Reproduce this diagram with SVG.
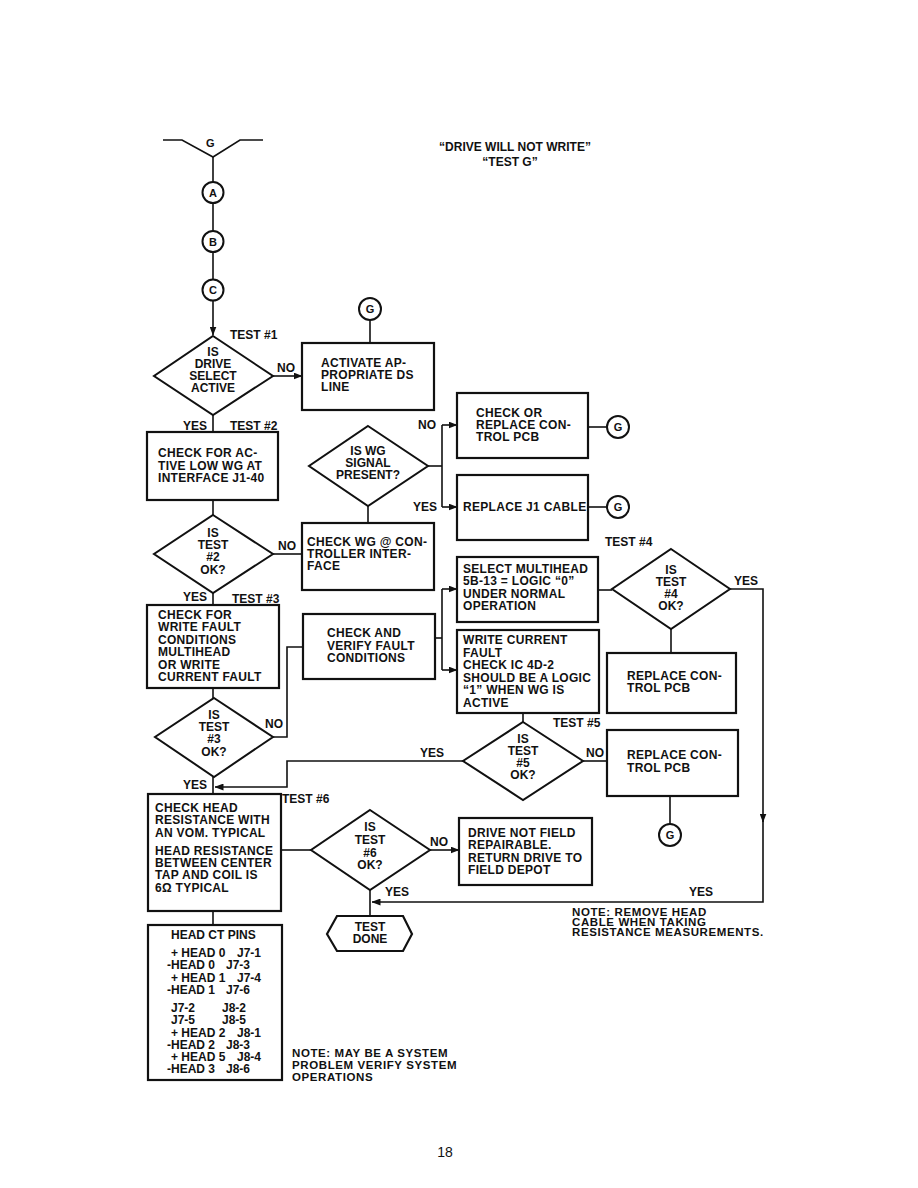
<svg xmlns="http://www.w3.org/2000/svg" width="918" height="1188" viewBox="0 0 918 1188">
<defs>
<marker id="ah" markerWidth="9" markerHeight="7" refX="8.5" refY="3.5" orient="auto" markerUnits="userSpaceOnUse">
<path d="M0,0 L9,3.5 L0,7 Z" fill="#111"/>
</marker>
<style>
.t{font-family:"Liberation Sans",Arial,Helvetica,sans-serif;font-weight:bold;font-size:12px;fill:#111}
.c{text-anchor:middle}
.b{letter-spacing:0.3px}
.n{font-size:11.5px;letter-spacing:0.6px}
.bx{fill:#fff;stroke:#111;stroke-width:2.2}
.dm{fill:#fff;stroke:#111;stroke-width:2}
.ci{fill:#fff;stroke:#111;stroke-width:2}
.ln{fill:none;stroke:#111;stroke-width:1.6}
.ar{fill:none;stroke:#111;stroke-width:1.6;marker-end:url(#ah)}
</style>
</defs>
<rect width="918" height="1188" fill="#fff"/>

<g id="title">
<text class="t c" x="515" y="151">“DRIVE WILL NOT WRITE”</text>
<text class="t c" x="510" y="166">“TEST G”</text>
</g>

<g id="connectors">
<polyline class="ln" points="163,140 182,140 213,157 240,140 263,140"/>
<line class="ln" x1="213" y1="157" x2="213" y2="182"/>
<line class="ln" x1="213" y1="203" x2="213" y2="231"/>
<line class="ln" x1="213" y1="252" x2="213" y2="279"/>
<line class="ar" x1="213" y1="300" x2="213" y2="335"/>
<line class="ar" x1="273" y1="376" x2="302" y2="376"/>
<line class="ln" x1="370" y1="320" x2="370" y2="343"/>
<line class="ln" x1="213" y1="415" x2="213" y2="432"/>
<line class="ln" x1="213" y1="500" x2="213" y2="515"/>
<line class="ln" x1="273" y1="554" x2="302" y2="554"/>
<line class="ln" x1="368" y1="506" x2="368" y2="523"/>
<polyline class="ln" points="428,466 442,466"/>
<line class="ln" x1="442" y1="425" x2="442" y2="507"/>
<line class="ar" x1="442" y1="425" x2="457" y2="425"/>
<line class="ar" x1="442" y1="507" x2="457" y2="507"/>
<line class="ln" x1="588" y1="427" x2="607" y2="427"/>
<line class="ln" x1="588" y1="507" x2="607" y2="507"/>
<line class="ln" x1="213" y1="593" x2="213" y2="605"/>
<line class="ln" x1="213" y1="688" x2="213" y2="698"/>
<polyline class="ln" points="273,737 287,737 287,647 303,647"/>
<line class="ln" x1="435" y1="638" x2="442" y2="638"/>
<line class="ln" x1="442" y1="589" x2="442" y2="670"/>
<line class="ar" x1="442" y1="589" x2="457" y2="589"/>
<line class="ar" x1="442" y1="670" x2="457" y2="670"/>
<line class="ln" x1="598" y1="590" x2="612" y2="590"/>
<polyline class="ar" points="730,589 763,589 763,822"/>
<polyline class="ar" points="763,815 763,902 372,902"/>
<line class="ln" x1="671" y1="629" x2="671" y2="653"/>
<line class="ln" x1="523" y1="713" x2="523" y2="722"/>
<line class="ln" x1="583" y1="761" x2="607" y2="761"/>
<line class="ln" x1="670" y1="796" x2="670" y2="824"/>
<polyline class="ar" points="463,761 287,761 287,787 215,787"/>
<line class="ln" x1="213" y1="777" x2="213" y2="794"/>
<line class="ln" x1="281" y1="850" x2="311" y2="850"/>
<line class="ar" x1="430" y1="850" x2="459" y2="850"/>
<line class="ln" x1="370" y1="890" x2="370" y2="916"/>
<line class="ln" x1="213" y1="911" x2="213" y2="925"/>
</g>

<g id="labels">
<text class="t" x="206" y="147" style="font-size:11px">G</text>
<text class="t" x="230" y="339">TEST #1</text>
<text class="t" x="277" y="372">NO</text>
<text class="t" x="183" y="430">YES</text>
<text class="t" x="230" y="430">TEST #2</text>
<text class="t" x="418" y="429">NO</text>
<text class="t" x="413" y="511">YES</text>
<text class="t" x="278" y="550">NO</text>
<text class="t" x="183" y="601">YES</text>
<text class="t" x="232" y="603">TEST #3</text>
<text class="t" x="605" y="546">TEST #4</text>
<text class="t" x="734" y="585">YES</text>
<text class="t" x="265" y="728">NO</text>
<text class="t" x="183" y="789">YES</text>
<text class="t" x="420" y="757">YES</text>
<text class="t" x="553" y="727">TEST #5</text>
<text class="t" x="586" y="757">NO</text>
<text class="t" x="282" y="803">TEST #6</text>
<text class="t" x="430" y="846">NO</text>
<text class="t" x="385" y="896">YES</text>
<text class="t" x="689" y="896">YES</text>
</g>

<g id="circleA"><circle class="ci" cx="213" cy="192.5" r="10.5"/><text class="t c" x="213" y="196.5" style="font-size:11px">A</text></g>
<g id="circleB"><circle class="ci" cx="213" cy="241.5" r="10.5"/><text class="t c" x="213" y="245.5" style="font-size:11px">B</text></g>
<g id="circleC"><circle class="ci" cx="213" cy="290" r="10.5"/><text class="t c" x="213" y="294" style="font-size:11px">C</text></g>
<g id="circleG1"><circle class="ci" cx="370" cy="309" r="11"/><text class="t c" x="370" y="313" style="font-size:11px">G</text></g>
<g id="circleG2"><circle class="ci" cx="618" cy="427" r="11"/><text class="t c" x="618" y="431" style="font-size:11px">G</text></g>
<g id="circleG3"><circle class="ci" cx="618" cy="507" r="11"/><text class="t c" x="618" y="511" style="font-size:11px">G</text></g>
<g id="circleG4"><circle class="ci" cx="670" cy="835" r="11"/><text class="t c" x="670" y="839" style="font-size:11px">G</text></g>

<g id="test1">
<polygon class="dm" points="213,336 273,376 213,415 154,376"/>
<text class="t c" x="213" y="356">IS</text>
<text class="t c" x="213" y="368">DRIVE</text>
<text class="t c" x="213" y="380">SELECT</text>
<text class="t c" x="213" y="392">ACTIVE</text>
</g>

<g id="activateDS">
<rect class="bx" x="302" y="343" width="132" height="67"/>
<text class="t b" x="321" y="367">ACTIVATE AP-</text>
<text class="t b" x="321" y="379">PROPRIATE DS</text>
<text class="t b" x="321" y="391">LINE</text>
</g>

<g id="checkActiveLowWG">
<rect class="bx" x="147" y="432" width="131" height="68"/>
<text class="t b" x="158" y="457">CHECK FOR AC-</text>
<text class="t b" x="158" y="470">TIVE LOW WG AT</text>
<text class="t b" x="158" y="482">INTERFACE J1-40</text>
</g>

<g id="wgPresent">
<polygon class="dm" points="368,426 428,466 368,506 309,466"/>
<text class="t c" x="368" y="455">IS WG</text>
<text class="t c" x="368" y="467">SIGNAL</text>
<text class="t c" x="368" y="479">PRESENT?</text>
</g>

<g id="checkReplacePCB">
<rect class="bx" x="457" y="393" width="131" height="65"/>
<text class="t b" x="476" y="417">CHECK OR</text>
<text class="t b" x="476" y="429">REPLACE CON-</text>
<text class="t b" x="476" y="441">TROL PCB</text>
</g>

<g id="replaceJ1">
<rect class="bx" x="457" y="475" width="131" height="65"/>
<text class="t b" x="463" y="511">REPLACE J1 CABLE</text>
</g>

<g id="test2">
<polygon class="dm" points="213,515 273,554 213,593 154,554"/>
<text class="t c" x="213" y="537">IS</text>
<text class="t c" x="213" y="549">TEST</text>
<text class="t c" x="213" y="561">#2</text>
<text class="t c" x="213" y="574">OK?</text>
</g>

<g id="checkWGController">
<rect class="bx" x="302" y="523" width="132" height="67"/>
<text class="t b" x="307" y="546">CHECK WG @ CON-</text>
<text class="t b" x="307" y="558">TROLLER INTER-</text>
<text class="t b" x="307" y="570">FACE</text>
</g>

<g id="checkWriteFault">
<rect class="bx" x="147" y="605" width="132" height="83"/>
<text class="t b" x="158" y="619">CHECK FOR</text>
<text class="t b" x="158" y="631">WRITE FAULT</text>
<text class="t b" x="158" y="644">CONDITIONS</text>
<text class="t b" x="158" y="656">MULTIHEAD</text>
<text class="t b" x="158" y="669">OR WRITE</text>
<text class="t b" x="158" y="681">CURRENT FAULT</text>
</g>

<g id="checkVerify">
<rect class="bx" x="303" y="614" width="132" height="65"/>
<text class="t b" x="327" y="637">CHECK AND</text>
<text class="t b" x="327" y="650">VERIFY FAULT</text>
<text class="t b" x="327" y="662">CONDITIONS</text>
</g>

<g id="selectMultihead">
<rect class="bx" x="457" y="557" width="141" height="65"/>
<text class="t b" x="463" y="573">SELECT MULTIHEAD</text>
<text class="t b" x="463" y="585">5B-13 = LOGIC “0”</text>
<text class="t b" x="463" y="598">UNDER NORMAL</text>
<text class="t b" x="463" y="610">OPERATION</text>
</g>

<g id="test4">
<polygon class="dm" points="671,549 730,589 671,629 612,589"/>
<text class="t c" x="671" y="574">IS</text>
<text class="t c" x="671" y="586">TEST</text>
<text class="t c" x="671" y="598">#4</text>
<text class="t c" x="671" y="610">OK?</text>
</g>

<g id="writeCurrentFault">
<rect class="bx" x="457" y="630" width="142" height="83"/>
<text class="t b" x="463" y="644">WRITE CURRENT</text>
<text class="t b" x="463" y="657">FAULT</text>
<text class="t b" x="463" y="669">CHECK IC 4D-2</text>
<text class="t b" x="463" y="682">SHOULD BE A LOGIC</text>
<text class="t b" x="463" y="694">“1” WHEN WG IS</text>
<text class="t b" x="463" y="707">ACTIVE</text>
</g>

<g id="replacePCB1">
<rect class="bx" x="607" y="653" width="129" height="60"/>
<text class="t b" x="627" y="680">REPLACE CON-</text>
<text class="t b" x="627" y="692">TROL PCB</text>
</g>

<g id="test3">
<polygon class="dm" points="214,698 273,737 214,777 155,737"/>
<text class="t c" x="214" y="719">IS</text>
<text class="t c" x="214" y="731">TEST</text>
<text class="t c" x="214" y="743">#3</text>
<text class="t c" x="214" y="756">OK?</text>
</g>

<g id="test5">
<polygon class="dm" points="523,722 583,761 523,800 463,761"/>
<text class="t c" x="523" y="743">IS</text>
<text class="t c" x="523" y="755">TEST</text>
<text class="t c" x="523" y="767">#5</text>
<text class="t c" x="523" y="779">OK?</text>
</g>

<g id="replacePCB2">
<rect class="bx" x="607" y="730" width="131" height="66"/>
<text class="t b" x="627" y="759">REPLACE CON-</text>
<text class="t b" x="627" y="772">TROL PCB</text>
</g>

<g id="checkHeadResistance">
<rect class="bx" x="148" y="794" width="133" height="117"/>
<text class="t b" x="155" y="812">CHECK HEAD</text>
<text class="t b" x="155" y="824">RESISTANCE WITH</text>
<text class="t b" x="155" y="837">AN VOM. TYPICAL</text>
<text class="t b" x="155" y="855">HEAD RESISTANCE</text>
<text class="t b" x="155" y="867">BETWEEN CENTER</text>
<text class="t b" x="155" y="879">TAP AND COIL IS</text>
<text class="t b" x="155" y="892">6Ω TYPICAL</text>
</g>

<g id="test6">
<polygon class="dm" points="370,810 430,850 370,890 311,850"/>
<text class="t c" x="370" y="831">IS</text>
<text class="t c" x="370" y="844">TEST</text>
<text class="t c" x="370" y="857">#6</text>
<text class="t c" x="370" y="869">OK?</text>
</g>

<g id="notRepairable">
<rect class="bx" x="459" y="818" width="133" height="67"/>
<text class="t b" x="468" y="837">DRIVE NOT FIELD</text>
<text class="t b" x="468" y="849">REPAIRABLE.</text>
<text class="t b" x="468" y="862">RETURN DRIVE TO</text>
<text class="t b" x="468" y="874">FIELD DEPOT</text>
</g>

<g id="testDone">
<polygon class="bx" points="327,934 337,916 403,916 412,934 403,951 337,951"/>
<text class="t c" x="370" y="931">TEST</text>
<text class="t c" x="370" y="943">DONE</text>
</g>

<g id="headCTPins">
<rect class="bx" x="148" y="925" width="134" height="155"/>
<text class="t" x="171" y="939">HEAD CT PINS</text>
<text class="t" x="171" y="957">+ HEAD 0</text><text class="t" x="237" y="957">J7-1</text>
<text class="t" x="167" y="969">-HEAD 0</text><text class="t" x="226" y="969">J7-3</text>
<text class="t" x="171" y="982">+ HEAD 1</text><text class="t" x="237" y="982">J7-4</text>
<text class="t" x="167" y="994">-HEAD 1</text><text class="t" x="226" y="994">J7-6</text>
<text class="t" x="171" y="1012">J7-2</text><text class="t" x="222" y="1012">J8-2</text>
<text class="t" x="171" y="1024">J7-5</text><text class="t" x="222" y="1024">J8-5</text>
<text class="t" x="171" y="1037">+ HEAD 2</text><text class="t" x="237" y="1037">J8-1</text>
<text class="t" x="167" y="1049">-HEAD 2</text><text class="t" x="226" y="1049">J8-3</text>
<text class="t" x="171" y="1061">+ HEAD 5</text><text class="t" x="237" y="1061">J8-4</text>
<text class="t" x="167" y="1073">-HEAD 3</text><text class="t" x="226" y="1073">J8-6</text>
</g>

<g id="notes">
<text class="t n" x="572" y="916">NOTE: REMOVE HEAD</text>
<text class="t n" x="572" y="926">CABLE WHEN TAKING</text>
<text class="t n" x="572" y="936">RESISTANCE MEASUREMENTS.</text>
<text class="t n" x="292" y="1057">NOTE: MAY BE A SYSTEM</text>
<text class="t n" x="292" y="1069">PROBLEM VERIFY SYSTEM</text>
<text class="t n" x="292" y="1081">OPERATIONS</text>
</g>

<g id="page">
<text class="t c" x="445" y="1157" style="font-size:14px;font-weight:normal">18</text>
</g>
</svg>
